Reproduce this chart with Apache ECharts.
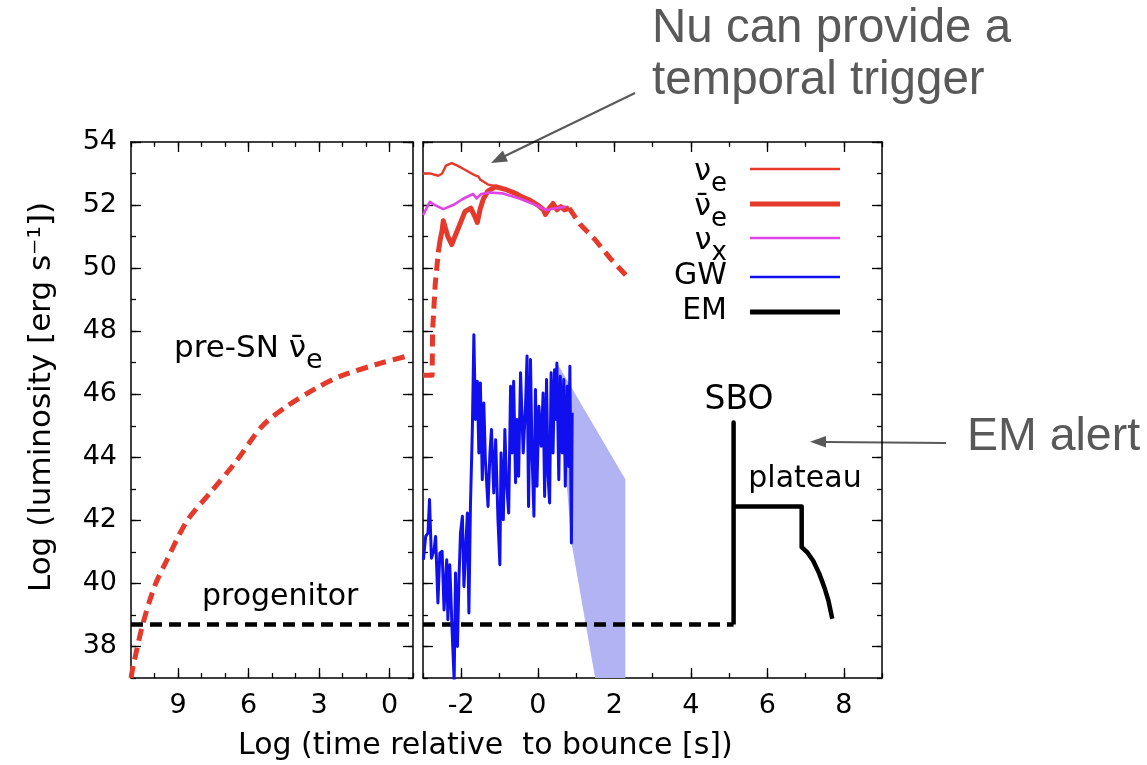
<!DOCTYPE html>
<html><head><meta charset="utf-8">
<script src="https://cdn.jsdelivr.net/npm/echarts@6/dist/echarts.min.js"></script>
<style>html,body{margin:0;padding:0;background:#fff}#c{width:1147px;height:765px}</style>
</head><body><div id="c"></div>
<script>
// ---------------- data ----------------
const preSN = [[11,37],[10.9,37.4],[10.5,38.7],[10,39.9],[9.5,40.7],[8.6,42],[7.6,42.9],[6.6,43.8],[5.4,45],[4.4,45.6],[3.1,46.2],[2,46.6],[0.3,47],[-0.7,47.2]];
const progenitorLeft = [[11,38.7],[-1,38.7]];
const progenitorRight = [[-3,38.7],[5.12,38.7]];
const nuebarRise = [[-3,46.6],[-2.76,46.6],[-2.75,48],[-2.68,49.5],[-2.6,50.5]];
const nuebar = [[-2.6,50.5],[-2.55,50.9],[-2.5,51.2],[-2.47,51.5],[-2.35,51.0],[-2.25,50.75],[-2.1,51.2],[-2.0,51.5],[-1.9,51.8],[-1.75,51.9],[-1.65,51.65],[-1.58,51.45],[-1.5,51.9],[-1.42,52.2],[-1.3,52.45],[-1.1,52.58],[-0.85,52.5],[-0.6,52.38],[-0.4,52.25],[-0.2,52.15],[0.0,52.0],[0.15,51.85],[0.2,51.7],[0.3,51.9],[0.4,52.05],[0.5,51.85],[0.6,51.95],[0.7,51.85],[0.82,51.9]];
const nuebarFall = [[0.82,51.9],[1.1,51.4],[1.5,50.9],[1.9,50.3],[2.3,49.78]];
const nue = [[-3,53.0],[-2.8,53.0],[-2.6,52.93],[-2.5,53.0],[-2.4,53.25],[-2.25,53.33],[-2.1,53.25],[-1.95,53.15],[-1.8,53.05],[-1.65,52.95],[-1.55,52.9],[-1.5,52.8],[-1.3,52.65],[-1.1,52.6],[-0.8,52.45],[-0.5,52.3],[-0.2,52.1],[0.1,51.95],[0.2,51.8],[0.4,51.95],[0.6,51.9],[0.8,51.95]];
const nux = [[-3,51.68],[-2.82,52.1],[-2.69,52.0],[-2.47,51.87],[-2.21,52.0],[-1.95,52.2],[-1.69,52.35],[-1.6,52.21],[-1.48,52.35],[-1.26,52.4],[-0.91,52.37],[-0.48,52.21],[-0.05,52.0],[0.21,51.84],[0.47,51.9],[0.73,51.95]];
const gw = [[-2.99,40.75],[-2.93,41.49],[-2.87,41.6],[-2.83,42.66],[-2.78,40.8],[-2.71,41.07],[-2.67,41.49],[-2.61,39.38],[-2.56,40.96],[-2.5,41.02],[-2.45,39.16],[-2.38,40.75],[-2.35,38.85],[-2.3,40.59],[-2.24,38.53],[-2.19,37.05],[-2.19,36.5],[-2.15,40.33],[-2.1,38.0],[-2.06,40.12],[-2.02,41.6],[-1.97,42.13],[-1.93,39.9],[-1.89,40.96],[-1.84,42.23],[-1.8,39.06],[-1.76,42.44],[-1.71,44.88],[-1.67,47.89],[-1.63,45.2],[-1.58,46.41],[-1.54,44.14],[-1.5,46.36],[-1.45,43.29],[-1.41,45.72],[-1.37,43.93],[-1.3,42.44],[-1.25,44.14],[-1.21,44.88],[-1.15,42.87],[-1.1,44.56],[-1.04,42.02],[-0.99,40.59],[-0.96,44.14],[-0.9,42.02],[-0.86,44.88],[-0.82,43.29],[-0.76,42.23],[-0.71,46.25],[-0.67,44.14],[-0.63,46.41],[-0.58,43.19],[-0.54,45.2],[-0.5,43.4],[-0.45,46.68],[-0.38,44.14],[-0.32,45.62],[-0.28,47.21],[-0.24,42.44],[-0.19,47.1],[-0.15,44.14],[-0.1,42.13],[-0.06,46.15],[-0.02,43.08],[0.03,45.62],[0.09,44.35],[0.14,46.04],[0.18,42.76],[0.23,46.47],[0.27,43.4],[0.31,42.55],[0.35,46.68],[0.4,44.14],[0.44,46.78],[0.48,45.2],[0.5,46.99],[0.55,43.29],[0.59,46.57],[0.64,44.14],[0.68,46.47],[0.72,43.08],[0.77,46.25],[0.81,43.71],[0.84,46.89],[0.88,41.28],[0.9,45.41]];
const gwBand = [[0.5,47.0],[2.29,43.3],[2.29,37],[1.5,37],[0.88,41.3]];
const em = [[5.12,38.7],[5.12,45.1],[5.12,42.44],[6.9,42.44],[6.9,41.15],[7.05,40.98],[7.2,40.72],[7.36,40.31],[7.5,39.85],[7.6,39.45],[7.7,38.88]];
const leftXTicks = [9,6,3,0];
const rightXTicks = [-2,0,2,4,6,8];
const yTicks = [38,40,42,44,46,48,50,52,54];

// ---------------- styles ----------------
const FIG = 'DejaVu Sans';
const RED = '#e5392b', MAG = '#e044e6', BLUE = '#1010ee', BLACK = '#000';
const axisLineStyle = {color:'#000', width:1.5};
const tickStyle = {color:'#000', width:1.3};

function xAxesFor(gi, min, max, inverse, majors, showLabels){
  const base = {gridIndex:gi, type:'value', min, max, inverse, interval:1, splitLine:{show:false}};
  return [
    {...base, position:'bottom', axisLine:{show:true,onZero:false,lineStyle:axisLineStyle},
      axisTick:{inside:true,length:5,lineStyle:tickStyle},
      axisLabel:{show:showLabels, fontFamily:FIG, fontSize:27, color:'#000', margin:14,
        formatter:v => majors.includes(v) ? String(v) : ''}},
    {...base, position:'bottom', axisLine:{show:false,onZero:false},
      axisTick:{inside:true,length:10,customValues:majors,lineStyle:tickStyle}, axisLabel:{show:false}},
    {...base, position:'top', axisLine:{show:true,onZero:false,lineStyle:axisLineStyle},
      axisTick:{inside:true,length:5,lineStyle:tickStyle}, axisLabel:{show:false}},
    {...base, position:'top', axisLine:{show:false,onZero:false},
      axisTick:{inside:true,length:10,customValues:majors,lineStyle:tickStyle}, axisLabel:{show:false}}
  ];
}
function yAxesFor(gi, showLabels){
  const base = {gridIndex:gi, type:'value', min:37, max:54, interval:1, splitLine:{show:false}};
  return [
    {...base, position:'left', axisLine:{show:true,onZero:false,lineStyle:axisLineStyle},
      axisTick:{inside:true,length:5,lineStyle:tickStyle},
      axisLabel:{show:showLabels, fontFamily:FIG, fontSize:27, color:'#000', margin:14,
        formatter:v => yTicks.includes(v) ? String(v) : ''}},
    {...base, position:'left', axisLine:{show:false,onZero:false},
      axisTick:{inside:true,length:10,customValues:yTicks,lineStyle:tickStyle}, axisLabel:{show:false}},
    {...base, position:'right', axisLine:{show:true,onZero:false,lineStyle:axisLineStyle},
      axisTick:{inside:true,length:5,lineStyle:tickStyle}, axisLabel:{show:false}},
    {...base, position:'right', axisLine:{show:false,onZero:false},
      axisTick:{inside:true,length:10,customValues:yTicks,lineStyle:tickStyle}, axisLabel:{show:false}}
  ];
}

function lineSeries(name, data, gi, color, width, dash, z, smooth){
  return {name, type:'line', data, xAxisIndex:gi*4, yAxisIndex:gi*4, symbol:'none', color, smooth: smooth || false,
    lineStyle:{color, width, type: dash || 'solid', cap:'butt', join:'round'}, z: z || 2, clip:true, silent:true};
}

const richLeg = {
  n:{fontFamily:FIG, fontSize:30, color:'#000', lineHeight:32, padding:[4,0,12,0], verticalAlign:'top'},
  s:{fontFamily:FIG, fontSize:26, color:'#000', lineHeight:26, padding:[18,0,4,0], verticalAlign:'top'},
  p:{fontFamily:FIG, fontSize:30, color:'#000', lineHeight:40, padding:[4,0,4,0], verticalAlign:'top'}
};
function legendFor(name, label, top, h){
  return {right:307, top, padding:0, align:'right', selectedMode:false, itemWidth:90, itemHeight:h,
    data:[{name, icon:'rect'}], formatter:() => label,
    textStyle:{rich:richLeg, padding:[0,18,0,0]}};
}

const option = {
  animation:false,
  backgroundColor:'#fff',
  grid:[
    {left:131, top:142, width:282, height:536},
    {left:423, top:142, width:459, height:536}
  ],
  xAxis:[...xAxesFor(0,-1,11,true,leftXTicks,true), ...xAxesFor(1,-3,9,false,rightXTicks,true)],
  yAxis:[...yAxesFor(0,true), ...yAxesFor(1,false)],
  legend:[
    legendFor('nue','{n|\u03BD}{s|e}',153,2.7),
    legendFor('nuebar','{n|\u03BD\u0304}{s|e}',188,5),
    legendFor('nux','{n|\u03BD}{s|x}',222,2.7),
    legendFor('GW','{p|GW}',257,2.4),
    legendFor('EM','{p|EM}',292,5)
  ],
  series:[
    lineSeries('preSN', preSN, 0, RED, 5, [12,7], 2, 0.3),
    lineSeries('progenitor', progenitorLeft, 0, BLACK, 4.5, [12,7]),
    lineSeries('progenitor2', progenitorRight, 1, BLACK, 4.5, [12,7]),
    {name:'band', type:'custom', xAxisIndex:4, yAxisIndex:4, data:[[1,42]], silent:true, z:1,
      renderItem:(params, api) => ({type:'polygon', shape:{points: gwBand.map(p => api.coord(p))},
        style:{fill:'#b1b3f3'}})},
    lineSeries('GW', gw, 1, BLUE, 3),
    lineSeries('nuebar', nuebarRise, 1, RED, 5, [12,7]),
    lineSeries('nuebar', nuebar, 1, RED, 5),
    lineSeries('nuebar', nuebarFall, 1, RED, 5, [12,7]),
    lineSeries('nue', nue, 1, RED, 2.4, null, 3),
    lineSeries('nux', nux, 1, MAG, 2.6, null, 4),
    lineSeries('EM', em, 1, BLACK, 4.5, null, 4)
  ],
  graphic:[
    {type:'text', x:42, y:397, rotation:Math.PI/2, style:{text:'Log (luminosity [erg s\u207B\u00B9])', font:'31px "DejaVu Sans"', fill:'#000', align:'center', verticalAlign:'middle'}},
    {type:'text', x:238, y:746, style:{text:'Log (time relative  to bounce [s])', font:'30px "DejaVu Sans"', fill:'#000', align:'left', verticalAlign:'middle'}},
    {type:'text', x:174, y:341, style:{text:'{a|pre-SN \u03BD\u0304}{b|e}', fill:'#000', align:'left', verticalAlign:'middle',
      rich:{a:{fontFamily:FIG, fontSize:31, lineHeight:32, padding:[8,0,8,0], verticalAlign:'top'},
            b:{fontFamily:FIG, fontSize:27, lineHeight:26, padding:[22,0,0,0], verticalAlign:'top'}}}},
    {type:'text', x:202, y:597, style:{text:'progenitor', font:'30px "DejaVu Sans"', fill:'#000', align:'left', verticalAlign:'middle'}},
    {type:'text', x:739, y:400, style:{text:'SBO', font:'33px "DejaVu Sans"', fill:'#000', align:'center', verticalAlign:'middle'}},
    {type:'text', x:805, y:479, style:{text:'plateau', font:'30px "DejaVu Sans"', fill:'#000', align:'center', verticalAlign:'middle'}},
    {type:'text', x:652, y:29, style:{text:'Nu can provide a', font:'47.5px "Liberation Sans"', fill:'#595959', align:'left', verticalAlign:'middle'}},
    {type:'text', x:652, y:81, style:{text:'temporal trigger', font:'47.5px "Liberation Sans"', fill:'#595959', align:'left', verticalAlign:'middle'}},
    {type:'text', x:967, y:437, style:{text:'EM alert', font:'46.5px "Liberation Sans"', fill:'#595959', align:'left', verticalAlign:'middle'}},
    {type:'line', shape:{x1:635, y1:93, x2:505, y2:156}, style:{stroke:'#595959', lineWidth:2}},
    {type:'polygon', shape:{points:[[491,163],[508,161.4],[502.8,150.6]]}, style:{fill:'#595959'}},
    {type:'line', shape:{x1:946, y1:443, x2:826, y2:442}, style:{stroke:'#595959', lineWidth:2}},
    {type:'polygon', shape:{points:[[810,441.7],[826,436],[826,447.5]]}, style:{fill:'#595959'}}
  ]
};
const chart = echarts.init(document.getElementById('c'), null, {renderer:'canvas'});
chart.setOption(option);
</script></body></html>
